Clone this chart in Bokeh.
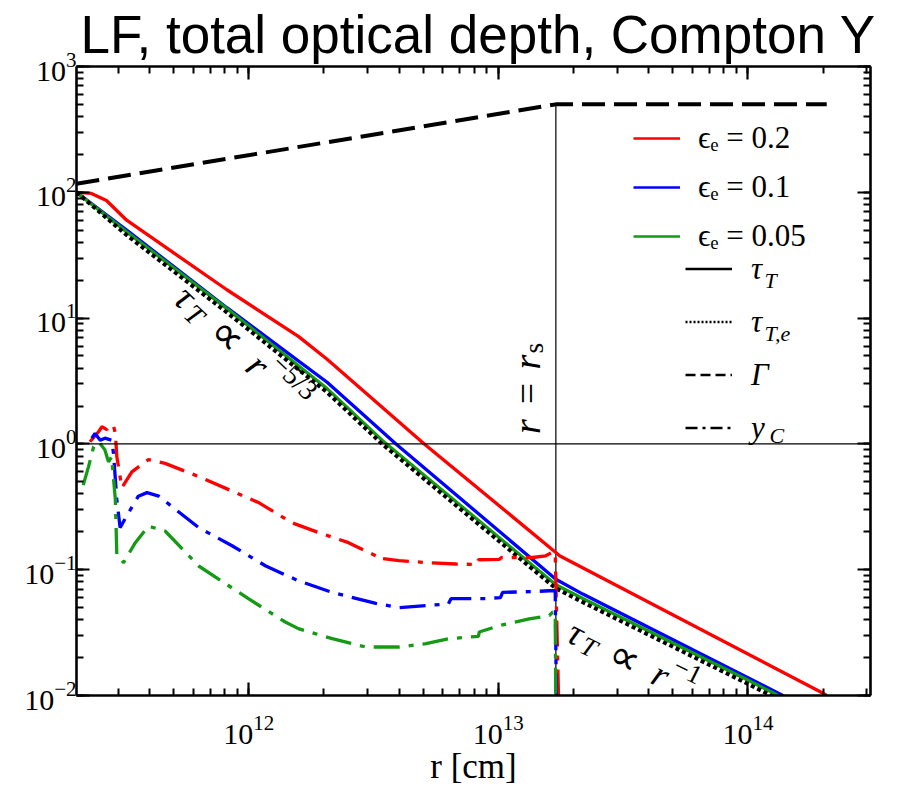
import math
from bokeh.plotting import figure
from bokeh.models import LogAxis, LogTicker, Span, Legend, LegendItem, Label, Range1d
from bokeh.core.properties import value
from bokeh.embed import file_html
from bokeh.resources import INLINE

# ---------------- data ----------------
r_min, r_max = 2.04e11, 3.1e14
y_min, y_max = 1e-2, 1e3
r_s = 1.7e13

gamma_r = [2.04e11, 1.7e13, 2.07e14]
gamma = [117, 500, 500]

tau_red_r = [2.04e11, 2.34e11, 2.69e11, 3.24e11, 8.17e11, 1.58e12, 2.06e12, 5.05e12, 1.70e13, 1.76e13, 1.95e14, 2.07e14]
tau_red = [100, 98, 86, 60, 16.8, 7.16, 4.71, 1.0, 0.137, 0.129, 0.0107, 0.0100]

tau_blue_r = [2.04e11, 3.24e11, 8.17e11, 2.06e12, 3.89e12, 1.70e13, 2.18e13, 1.38e14, 2.07e14]
tau_blue = [100, 50.1, 12.1, 3.09, 1.0, 0.084, 0.064, 0.0100, 0.0067]

tau_green_r = [2.04e11, 3.24e11, 8.17e11, 2.06e12, 3.42e12, 1.70e13, 2.18e13, 9.89e13, 2.07e14]
tau_green = [100, 48.5, 11.9, 2.75, 1.07, 0.076, 0.059, 0.0134, 0.0064]

tau_e_r = [2.04e11, 3.24e11, 8.17e11, 2.06e12, 3.42e12, 1.70e13, 2.18e13, 9.89e13, 2.07e14]
tau_e = [100, 45.7, 11.1, 2.57, 1.0, 0.071, 0.0552, 0.0125, 0.0060]

yc_red_r = [2.31e11, 2.50e11, 2.58e11, 2.70e11, 2.76e11, 2.87e11, 2.92e11, 2.96e11, 3.10e11, 3.40e11,
            3.96e11, 4.62e11, 6.30e11, 1.10e12, 1.49e12, 1.91e12, 2.51e12, 3.23e12, 3.25e12, 4.00e12,
            5.13e12, 6.76e12, 8.20e12, 8.32e12, 1.01e13, 1.03e13, 1.37e13, 1.55e13, 1.65e13, 1.69e13, 1.79e13]
yc_red = [1.04, 1.25, 1.37, 1.30, 1.40, 1.39, 1.21, 0.79, 0.45, 0.60,
          0.75, 0.70, 0.55, 0.34, 0.236, 0.197, 0.164, 0.129, 0.124, 0.118,
          0.114, 0.111, 0.110, 0.120, 0.121, 0.125, 0.125, 0.129, 0.138, 0.135, 0.001]

yc_blue_r = [2.35e11, 2.42e11, 2.54e11, 2.65e11, 2.82e11, 2.87e11, 2.96e11, 3.05e11, 3.30e11, 3.61e11,
             3.91e11, 4.36e11, 6.30e11, 8.57e11, 1.17e12, 1.58e12, 2.16e12, 3.23e12, 4.00e12, 6.31e12,
             6.46e12, 8.91e12, 1.02e13, 1.04e13, 1.37e13, 1.60e13, 1.69e13, 1.73e13]
yc_blue = [1.11, 1.21, 1.07, 1.11, 1.07, 0.84, 0.36, 0.216, 0.284, 0.384,
           0.41, 0.384, 0.216, 0.155, 0.107, 0.0817, 0.066, 0.054, 0.050, 0.0535,
           0.0588, 0.059, 0.060, 0.066, 0.067, 0.068, 0.068, 0.001]

yc_green_r = [2.17e11, 2.28e11, 2.39e11, 2.50e11, 2.65e11, 2.74e11, 2.82e11, 2.92e11, 2.96e11, 3.15e11,
              3.51e11, 3.96e11, 4.62e11, 6.30e11, 1.00e12, 1.40e12, 1.58e12, 2.16e12, 2.94e12, 4.00e12,
              5.13e12, 6.35e12, 8.32e12, 8.39e12, 1.01e13, 1.33e13, 1.60e13, 1.65e13, 1.69e13, 1.71e13]
yc_green = [0.47, 0.66, 0.95, 1.04, 0.90, 0.72, 0.79, 0.36, 0.129, 0.114,
            0.164, 0.222, 0.203, 0.107, 0.0586, 0.0384, 0.034, 0.0283, 0.0243, 0.0243,
            0.0258, 0.0283, 0.0295, 0.032, 0.036, 0.0407, 0.0432, 0.046, 0.046, 0.001]

eps_labels = ["ϵₑ = 0.2", "ϵₑ = 0.1", "ϵₑ = 0.05"]
style_labels = ["τ", "τ", "Γ", "y"]
style_subs = ["T", "T,e", "", "C"]
title_text = "LF, total optical depth, Compton Y"
x_label = "r [cm]"

RED, BLUE, GREEN = "#ff0000", "#0000ff", "#149a14"
SERIF = "Liberation Serif"

# ---------------- figure ----------------
p = figure(width=884, height=788, x_axis_type="log", y_axis_type="log",
           x_range=(r_min, r_max), y_range=(y_min, y_max),
           output_backend="svg", toolbar_location=None,
           min_border_left=76, min_border_right=14, min_border_top=57, min_border_bottom=60)
p.xgrid.visible = False
p.ygrid.visible = False
p.outline_line_color = None
p.background_fill_color = "white"
# off-screen range used only for the legend sample lines
p.extra_y_ranges = {"hidden": Range1d(1e8, 1e9)}

p.title.text = title_text
p.title.text_font = "Liberation Sans"
p.title.text_font_size = "53px"
p.title.text_font_style = "normal"
p.title.text_color = "black"
p.title.align = "left"
p.title.offset = 4
p.title.standoff = 5

xb = p.xaxis[0]
yl = p.yaxis[0]
top = LogAxis(ticker=LogTicker(num_minor_ticks=10))
right = LogAxis(ticker=LogTicker(num_minor_ticks=10))
p.add_layout(top, "above")
p.add_layout(right, "right")

for ax in (xb, yl, top, right):
    ax.axis_line_width = 2.6
    ax.axis_line_color = "black"
    ax.major_tick_in = 13
    ax.major_tick_out = 0
    ax.minor_tick_in = 7
    ax.minor_tick_out = 0
    ax.major_tick_line_width = 2.2
    ax.minor_tick_line_width = 2.0
    ax.major_label_text_font = SERIF
    ax.major_label_text_font_size = "30px"
    ax.major_label_text_color = "black"
for ax in (top, right):
    ax.major_label_text_font_size = "2px"
    ax.major_label_text_alpha = 0
    ax.major_label_standoff = 0

xb.major_label_standoff = 20
yl.major_label_standoff = 0
xb.axis_label = x_label
xb.axis_label_text_font = SERIF
xb.axis_label_text_font_size = "35px"
xb.axis_label_text_font_style = "normal"
xb.axis_label_text_color = "black"
xb.axis_label_standoff = 0

# reference lines
p.add_layout(Span(location=1, dimension="width", line_color="black", line_width=1.3))
p.segment(x0=[r_s], y0=[y_min], x1=[r_s], y1=[gamma[-1]], line_color="#333333", line_width=1.5)

# curves
p.line(gamma_r, gamma, line_color="black", line_width=4, line_dash="23 9")
p.line(tau_red_r, tau_red, line_color=RED, line_width=3.3)
p.line(tau_blue_r, tau_blue, line_color=BLUE, line_width=3.3)
p.line(tau_green_r, tau_green, line_color=GREEN, line_width=3.3)
p.line(tau_e_r, tau_e, line_color="black", line_width=4, line_dash="4 3")
p.line(yc_red_r, yc_red, line_color=RED, line_width=3.3, line_dash="26 9 5 9")
p.line(yc_blue_r, yc_blue, line_color=BLUE, line_width=3.3, line_dash="26 9 5 9")
p.line(yc_green_r, yc_green, line_color=GREEN, line_width=3.3, line_dash="26 9 5 9")

# legend sample renderers: same data, drawn on an off-screen range
hid = dict(y_range_name="hidden")
leg_red = p.line(tau_red_r, tau_red, line_color=RED, line_width=2.4, **hid)
leg_blue = p.line(tau_blue_r, tau_blue, line_color=BLUE, line_width=2.4, **hid)
leg_green = p.line(tau_green_r, tau_green, line_color=GREEN, line_width=2.4, **hid)
leg_solid = p.line(tau_e_r, tau_e, line_color="black", line_width=2.6, **hid)
leg_dot = p.line(tau_e_r, tau_e, line_color="black", line_width=2.6, line_dash="2 2", **hid)
leg_dash = p.line(gamma_r, gamma, line_color="black", line_width=2.6, line_dash="10 5", **hid)
leg_dashdot = p.line(yc_red_r, yc_red, line_color="black", line_width=2.6, line_dash="12 5 3 5", **hid)

leg1 = Legend(items=[LegendItem(label=eps_labels[0], renderers=[leg_red]),
                     LegendItem(label=eps_labels[1], renderers=[leg_blue]),
                     LegendItem(label=eps_labels[2], renderers=[leg_green])],
              location=(557, 436), padding=0, margin=0, spacing=3,
              glyph_width=47, glyph_height=46, label_height=46, label_standoff=18,
              border_line_alpha=0, background_fill_alpha=0,
              label_text_font=SERIF, label_text_font_size="31px", label_text_color="black")
leg2 = Legend(items=[LegendItem(label=style_labels[0], renderers=[leg_solid]),
                     LegendItem(label=style_labels[1], renderers=[leg_dot]),
                     LegendItem(label=style_labels[2], renderers=[leg_dash]),
                     LegendItem(label=style_labels[3], renderers=[leg_dashdot])],
              location=(609, 244), padding=0, margin=0, spacing=6,
              glyph_width=47, glyph_height=47, label_height=47, label_standoff=19,
              border_line_alpha=0, background_fill_alpha=0,
              label_text_font=SERIF, label_text_font_size="31px", label_text_font_style="italic",
              label_text_color="black")
p.add_layout(leg1)
p.add_layout(leg2)

# legend subscripts (screen units, frame relative)
sub_pos = [(688, 415), (688, 362), None, (693, 260)]
for sub, pos in zip(style_subs, sub_pos):
    if sub and pos:
        p.add_layout(Label(x=pos[0], y=pos[1], x_units="screen", y_units="screen", text=sub,
                           text_font=SERIF, text_font_size="22px", text_font_style="italic",
                           text_baseline="middle", text_align="left", text_color="black"))


def rotated_math(x, y, angle, pieces, size):
    total = sum(pc[4] * pc[1] for pc in pieces) * size
    d = -total / 2
    c, s = math.cos(angle), math.sin(angle)
    base = -0.25 * size
    for txt, scale, rise, style, w in pieces:
        h = base + rise * size
        xo = d * c - h * s
        yo = -(d * s + h * c)
        p.text(x=[x], y=[y], text=[txt], angle=angle, x_offset=xo, y_offset=yo,
               text_font=value(SERIF), text_font_size=f"{size * scale:.1f}px",
               text_font_style=style, text_align="left", text_baseline="alphabetic",
               text_color="black")
        d += w * scale * size


rotated_math(9.97e11, 6.46, -0.76,
             [("τ", 1.0, 0.0, "italic", 0.46), ("T", 0.72, -0.2, "italic", 0.62 + 0.45),
              ("∝", 1.15, 0.0, "normal", 0.84 + 0.3), ("r", 1.0, 0.0, "italic", 0.42),
              ("−5/3", 0.72, 0.42, "normal", 1.85)], 39)
rotated_math(3.57e13, 0.0222, -0.46,
             [("τ", 1.0, 0.0, "italic", 0.46), ("T", 0.72, -0.2, "italic", 0.62 + 0.45),
              ("∝", 1.15, 0.0, "normal", 0.84 + 0.3), ("r", 1.0, 0.0, "italic", 0.42),
              ("−1", 0.72, 0.42, "normal", 1.07)], 37)
rotated_math(1.19e13, 2.77, math.pi / 2,
             [("r", 1.0, 0.0, "italic", 0.42 + 0.36), ("=", 1.0, 0.0, "normal", 0.56 + 0.36),
              ("r", 1.0, 0.0, "italic", 0.42), ("s", 0.72, -0.2, "normal", 0.4)], 38)

open("out.html", "w").write(file_html(p, INLINE))
